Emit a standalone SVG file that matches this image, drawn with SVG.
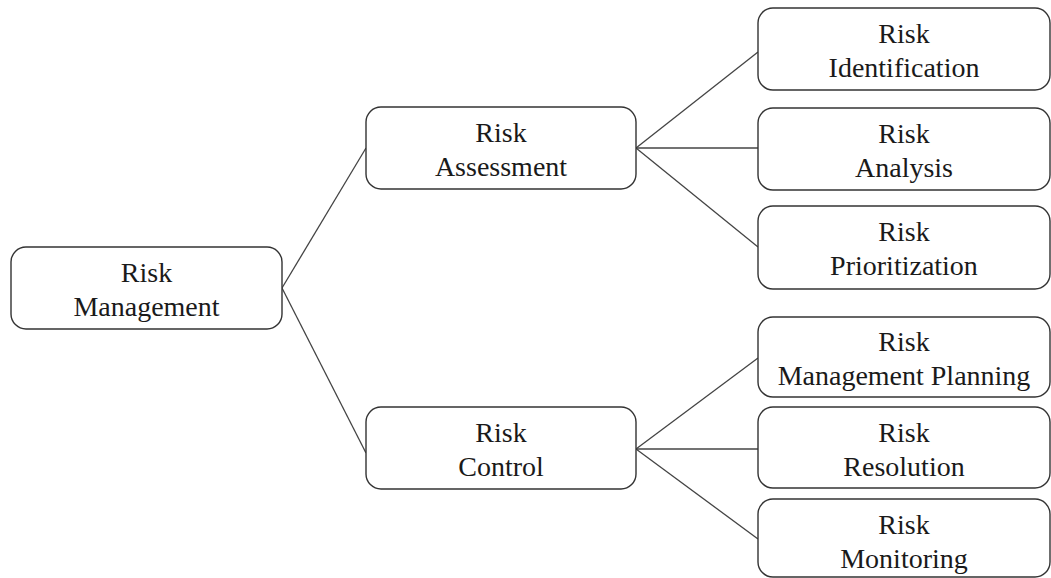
<svg xmlns="http://www.w3.org/2000/svg" width="1051" height="578" viewBox="0 0 1051 578">
<style>
.box{fill:#fff;stroke:#333;stroke-width:1.4}
</style>
<rect width="1051" height="578" fill="#fff"/>
<g id="connectors" stroke="#444" stroke-width="1.3">
<line x1="282" y1="288" x2="366" y2="148"/>
<line x1="282" y1="288" x2="366" y2="453"/>
<line x1="636" y1="148" x2="758" y2="52"/>
<line x1="636" y1="148" x2="758" y2="148"/>
<line x1="636" y1="148" x2="758" y2="247"/>
<line x1="636" y1="449" x2="758" y2="358"/>
<line x1="636" y1="449" x2="758" y2="449"/>
<line x1="636" y1="449" x2="758" y2="539"/>
</g>
<g id="risk-management">
<rect class="box" x="11" y="247" width="271" height="82" rx="15"/>
<text x="146.5" y="282" font-family="Liberation Serif, serif" font-size="28" text-anchor="middle" fill="#1a1a1a">Risk</text>
<text x="146.5" y="316" font-family="Liberation Serif, serif" font-size="28" text-anchor="middle" fill="#1a1a1a">Management</text>
</g>
<g id="risk-assessment">
<rect class="box" x="366" y="107" width="270" height="82" rx="15"/>
<text x="501" y="142" font-family="Liberation Serif, serif" font-size="28" text-anchor="middle" fill="#1a1a1a">Risk</text>
<text x="501" y="176" font-family="Liberation Serif, serif" font-size="28" text-anchor="middle" fill="#1a1a1a">Assessment</text>
</g>
<g id="risk-control">
<rect class="box" x="366" y="407" width="270" height="82" rx="15"/>
<text x="501" y="442" font-family="Liberation Serif, serif" font-size="28" text-anchor="middle" fill="#1a1a1a">Risk</text>
<text x="501" y="476" font-family="Liberation Serif, serif" font-size="28" text-anchor="middle" fill="#1a1a1a">Control</text>
</g>
<g id="risk-identification">
<rect class="box" x="758" y="8" width="292" height="82" rx="15"/>
<text x="904" y="43" font-family="Liberation Serif, serif" font-size="28" text-anchor="middle" fill="#1a1a1a">Risk</text>
<text x="904" y="77" font-family="Liberation Serif, serif" font-size="28" text-anchor="middle" fill="#1a1a1a">Identification</text>
</g>
<g id="risk-analysis">
<rect class="box" x="758" y="108" width="292" height="82" rx="15"/>
<text x="904" y="143" font-family="Liberation Serif, serif" font-size="28" text-anchor="middle" fill="#1a1a1a">Risk</text>
<text x="904" y="177" font-family="Liberation Serif, serif" font-size="28" text-anchor="middle" fill="#1a1a1a">Analysis</text>
</g>
<g id="risk-prioritization">
<rect class="box" x="758" y="206" width="292" height="83" rx="15"/>
<text x="904" y="241" font-family="Liberation Serif, serif" font-size="28" text-anchor="middle" fill="#1a1a1a">Risk</text>
<text x="904" y="275" font-family="Liberation Serif, serif" font-size="28" text-anchor="middle" fill="#1a1a1a">Prioritization</text>
</g>
<g id="risk-management-planning">
<rect class="box" x="758" y="317" width="292" height="80" rx="15"/>
<text x="904" y="351" font-family="Liberation Serif, serif" font-size="28" text-anchor="middle" fill="#1a1a1a">Risk</text>
<text x="904" y="385" font-family="Liberation Serif, serif" font-size="28" text-anchor="middle" fill="#1a1a1a">Management Planning</text>
</g>
<g id="risk-resolution">
<rect class="box" x="758" y="407" width="292" height="81" rx="15"/>
<text x="904" y="442" font-family="Liberation Serif, serif" font-size="28" text-anchor="middle" fill="#1a1a1a">Risk</text>
<text x="904" y="476" font-family="Liberation Serif, serif" font-size="28" text-anchor="middle" fill="#1a1a1a">Resolution</text>
</g>
<g id="risk-monitoring">
<rect class="box" x="758" y="499" width="292" height="78" rx="15"/>
<text x="904" y="534" font-family="Liberation Serif, serif" font-size="28" text-anchor="middle" fill="#1a1a1a">Risk</text>
<text x="904" y="568" font-family="Liberation Serif, serif" font-size="28" text-anchor="middle" fill="#1a1a1a">Monitoring</text>
</g>
</svg>
